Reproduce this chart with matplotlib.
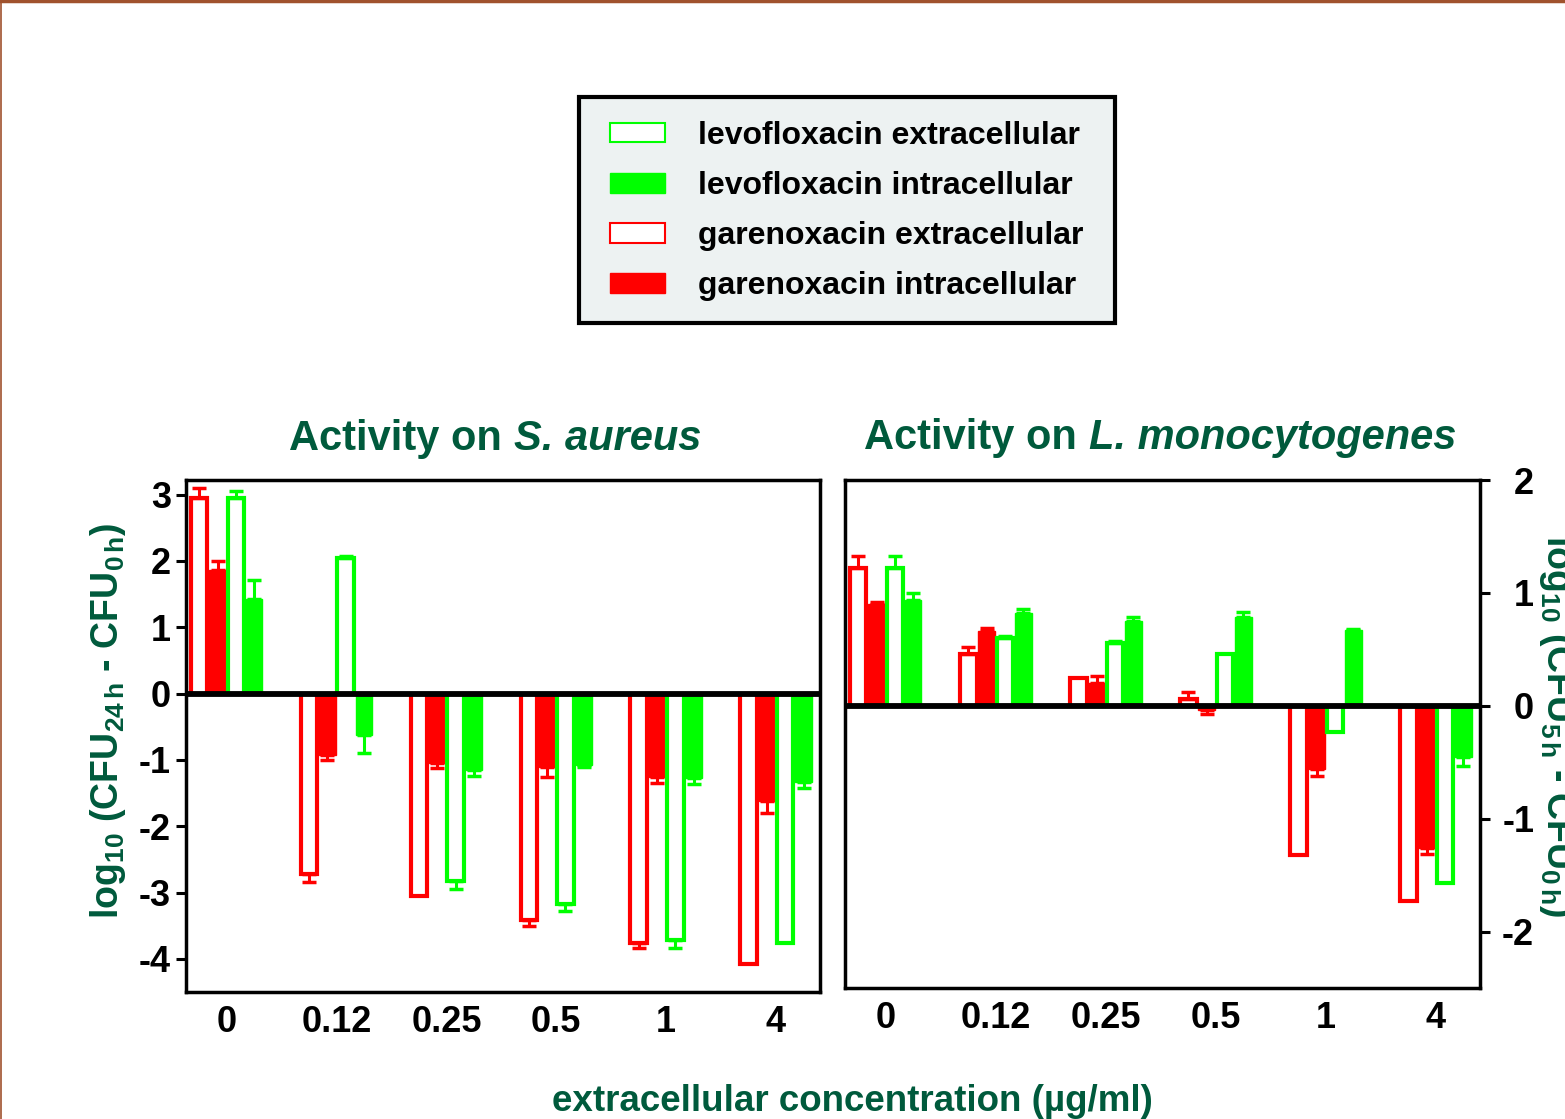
import numpy as np
import matplotlib
matplotlib.use("Agg")
import matplotlib.pyplot as plt
from matplotlib.patches import Patch, Rectangle
from matplotlib.lines import Line2D

plt.rcParams['font.family'] = ['Liberation Sans', 'DejaVu Sans']
plt.rcParams['font.weight'] = 'bold'
plt.rcParams['mathtext.fontset'] = 'custom'
plt.rcParams['mathtext.rm'] = 'Liberation Sans:bold'
plt.rcParams['mathtext.it'] = 'Liberation Sans:bold:italic'
plt.rcParams['mathtext.bf'] = 'Liberation Sans:bold'
plt.rcParams['mathtext.default'] = 'regular'
plt.rcParams['axes.unicode_minus'] = False

RED = '#ff0000'
GREEN = '#00ff00'
DKGREEN = '#005a3c'

conc = ['0', '0.12', '0.25', '0.5', '1', '4']

# S. aureus, 24 h
sa_gar_ext = [2.95, -2.72, -3.05, -3.42, -3.76, -4.08]
sa_gar_ext_sd = [0.15, 0.12, 0.0, 0.09, 0.08, 0.0]
sa_gar_int = [1.87, -0.92, -1.04, -1.10, -1.26, -1.62]
sa_gar_int_sd = [0.13, 0.08, 0.09, 0.16, 0.09, 0.18]
sa_levo_ext = [2.95, 2.05, -2.83, -3.17, -3.72, -3.76]
sa_levo_ext_sd = [0.10, 0.02, 0.12, 0.11, 0.12, 0.0]
sa_levo_int = [1.42, -0.63, -1.15, -1.08, -1.28, -1.34]
sa_levo_int_sd = [0.29, 0.27, 0.10, 0.02, 0.09, 0.09]

# L. monocytogenes, 5 h
lm_gar_ext = [1.22, 0.46, 0.25, 0.06, -1.32, -1.73]
lm_gar_ext_sd = [0.11, 0.06, 0.0, 0.06, 0.0, 0.0]
lm_gar_int = [0.90, 0.66, 0.20, -0.04, -0.56, -1.26]
lm_gar_int_sd = [0.02, 0.03, 0.06, 0.03, 0.06, 0.05]
lm_levo_ext = [1.22, 0.60, 0.56, 0.46, -0.23, -1.57]
lm_levo_ext_sd = [0.11, 0.02, 0.01, 0.0, 0.0, 0.0]
lm_levo_int = [0.94, 0.82, 0.75, 0.79, 0.67, -0.45]
lm_levo_int_sd = [0.06, 0.04, 0.04, 0.04, 0.01, 0.08]

W = 0.15
offsets = [-0.25, -0.083, 0.083, 0.25]


def draw_panel(ax, series):
    x = np.arange(len(conc))
    for off, (vals, sd, color, filled) in zip(offsets, series):
        vals = np.array(vals)
        sd = np.array(sd)
        pos = x + off
        if filled:
            ax.bar(pos, vals, W, color=color, edgecolor=color, linewidth=1, zorder=2)
        else:
            ax.bar(pos, vals, W, facecolor='white', edgecolor=color, linewidth=3, zorder=2)
        m = sd > 0
        lower = np.where(vals < 0, sd, 0)
        upper = np.where(vals >= 0, sd, 0)
        ax.errorbar(pos[m], vals[m], yerr=[lower[m], upper[m]], fmt='none',
                    ecolor=color, elinewidth=2.2, capsize=5, capthick=2.5, zorder=3)
    ax.axhline(0, color='black', linewidth=4.2, zorder=4)
    ax.set_xticks(x)
    ax.set_xticklabels(conc)
    ax.set_xlim(-0.37, 5.4)
    ax.tick_params(axis='x', length=0, pad=9, labelsize=26)
    ax.tick_params(axis='y', length=7, width=2.2, direction='out', labelsize=26, pad=4)
    for s in ax.spines.values():
        s.set_linewidth(2.5)


def mixed_title(fig, xc, yc, plain, italic):
    # plain bold part followed by a bold italic part, centred as a whole
    r = fig.canvas.get_renderer()
    t1 = fig.text(0, 0, plain, color=DKGREEN, fontsize=30, va='center')
    t2 = fig.text(0, 0, italic, color=DKGREEN, fontsize=30, va='center', style='italic')
    w1 = t1.get_window_extent(r).width / fig.bbox.width
    w2 = t2.get_window_extent(r).width / fig.bbox.width
    x0 = xc - (w1 + w2) / 2
    t1.set_position((x0, yc))
    t2.set_position((x0 + w1, yc))


fig = plt.figure(figsize=(15.65, 11.19), dpi=100)

ax1 = fig.add_axes([186 / 1565, 1 - 992 / 1119, 634 / 1565, 512 / 1119])
draw_panel(ax1, [(sa_gar_ext, sa_gar_ext_sd, RED, False),
                 (sa_gar_int, sa_gar_int_sd, RED, True),
                 (sa_levo_ext, sa_levo_ext_sd, GREEN, False),
                 (sa_levo_int, sa_levo_int_sd, GREEN, True)])
ax1.set_ylim(-4.5, 3.22)
ax1.set_yticks([-4, -3, -2, -1, 0, 1, 2, 3])

ax2 = fig.add_axes([845 / 1565, 1 - 988 / 1119, 635 / 1565, 508 / 1119])
draw_panel(ax2, [(lm_gar_ext, lm_gar_ext_sd, RED, False),
                 (lm_gar_int, lm_gar_int_sd, RED, True),
                 (lm_levo_ext, lm_levo_ext_sd, GREEN, False),
                 (lm_levo_int, lm_levo_int_sd, GREEN, True)])
ax2.set_ylim(-2.5, 2.0)
ax2.set_yticks([-2, -1, 0, 1, 2])
ax2.yaxis.tick_right()
ax2.tick_params(axis='y', pad=32)
for lab in ax2.get_yticklabels():
    lab.set_horizontalalignment('right')

mixed_title(fig, 495 / 1565, 1 - 439 / 1119, 'Activity on ', 'S. aureus')
mixed_title(fig, 1160 / 1565, 1 - 438 / 1119, 'Activity on ', 'L. monocytogenes')

fig.text(108 / 1565, 1 - 721 / 1119, r'log$_{10}$ (CFU$_{24\,h}$ - CFU$_{0\,h}$)',
         color=DKGREEN, fontsize=27, rotation=90, ha='center', va='center')
fig.text(1557 / 1565, 1 - 726 / 1119, r'log$_{10}$ (CFU$_{5\,h}$ - CFU$_{0\,h}$)',
         color=DKGREEN, fontsize=27, rotation=270, ha='center', va='center')
fig.text(852 / 1565, 1 - 1084 / 1119, 'extracellular concentration (µg/ml)',
         color=DKGREEN, fontsize=26.5, ha='center', va='top')

# legend box drawn separately so its size matches the original
fig.add_artist(Rectangle((579 / 1565, 1 - 323 / 1119), 536 / 1565, 226 / 1119,
                         transform=fig.transFigure, facecolor='#edf2f2',
                         edgecolor='black', linewidth=3, zorder=1))
handles = [Patch(facecolor='white', edgecolor=GREEN, linewidth=1.5),
           Patch(facecolor=GREEN, edgecolor=GREEN),
           Patch(facecolor='white', edgecolor=RED, linewidth=1.5),
           Patch(facecolor=RED, edgecolor=RED)]
labels = ['levofloxacin extracellular', 'levofloxacin intracellular',
          'garenoxacin extracellular', 'garenoxacin intracellular']
leg = fig.legend(handles, labels, loc='upper left',
                 bbox_to_anchor=(610 / 1565, 1 - 121 / 1119), borderaxespad=0,
                 fontsize=23, handlelength=1.72, handleheight=0.56,
                 handletextpad=1.05, labelspacing=0.63, borderpad=0,
                 frameon=False)
leg.set_zorder(2)

# slide border
fig.add_artist(Line2D([0, 1], [0.999, 0.999], color='#a0522d', linewidth=2.5, transform=fig.transFigure))
fig.add_artist(Line2D([0.0005, 0.0005], [0, 1], color='#a0522d', linewidth=1.2, transform=fig.transFigure))

fig.savefig('out.png', dpi=100)
